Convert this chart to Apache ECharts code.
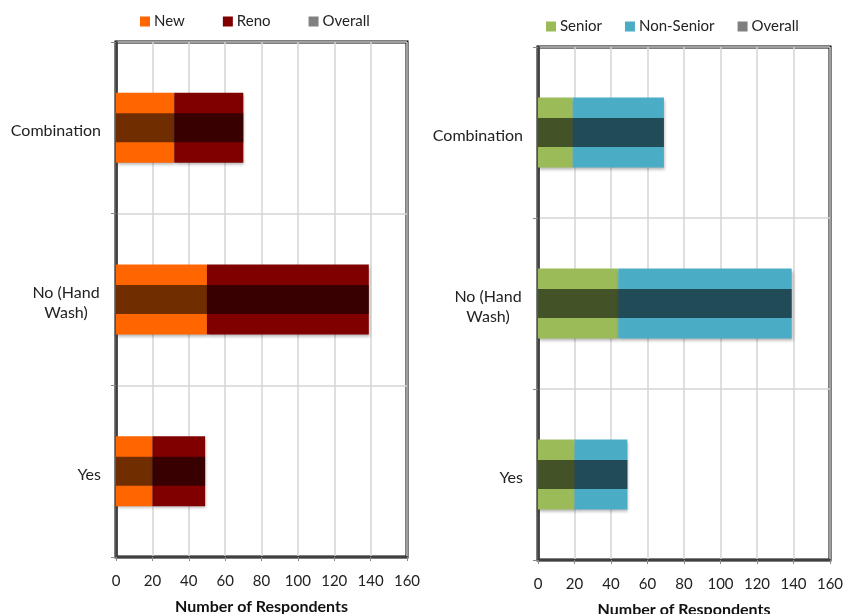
<!DOCTYPE html>
<html>
<head>
<meta charset="utf-8">
<script src="https://cdn.jsdelivr.net/npm/echarts@6/dist/echarts.min.js"></script>
<style>
  html, body { margin: 0; padding: 0; background: #fff; }
  #chart { width: 843px; height: 614px; }
</style>
</head>
<body>
<div id="chart"></div>
<script>
// categories, bottom to top
const categories = ['Yes', 'No (Hand\nWash)', 'Combination']
const xTicks = [0, 20, 40, 60, 80, 100, 120, 140, 160]

// left panel
const newValues = [20, 50, 32]
const renoValues = [29, 89, 38]
const overallLeft = [49, 139, 70]

// right panel
const seniorValues = [20, 44, 19]
const nonSeniorValues = [29, 95, 50]
const overallRight = [49, 139, 69]

const font = 'Lato, "Open Sans", sans-serif'
const overlay = 'rgba(0,0,0,0.56)'
const barShadow = { shadowBlur: 3, shadowColor: 'rgba(0,0,0,0.3)', shadowOffsetX: 1, shadowOffsetY: 2 }

const catLabel = {
	fontFamily: font,
	fontSize: 16,
	color: '#222',
	margin: 15,
	padding: [7, 0, 0, 0],
	formatter: function (v) {
		// two-line label is centred line by line
		if (v.indexOf('\n') < 0) return v
		return v.split('\n').map(s => '{c|' + s + '}').join('\n')
	},
	rich: { c: { width: 70, align: 'center', fontFamily: font, fontSize: 16, color: '#222', lineHeight: 20 } }
}

function xAxisFor(gridIndex) {
	return {
		type: 'value', gridIndex: gridIndex,
		min: xTicks[0], max: xTicks[xTicks.length - 1], interval: 20,
		name: 'Number of Respondents', nameLocation: 'middle', nameGap: 42,
		nameTextStyle: { fontFamily: font, fontSize: 16, fontWeight: 'bold', color: '#111' },
		axisLine: { show: true, lineStyle: { color: '#404040', width: 2 } },
		axisTick: { show: true, length: 4, lineStyle: { color: '#888' } },
		axisLabel: { fontFamily: font, fontSize: 15, color: '#222', margin: 17 },
		splitLine: { show: true, lineStyle: { color: '#d4d4d4', width: 1.5 } }
	}
}

function yAxesFor(gridIndex) {
	return [{
		type: 'category', gridIndex: gridIndex, data: categories,
		axisLine: { show: true, lineStyle: { color: '#404040', width: 2.5 } },
		axisTick: { show: true, length: 5, lineStyle: { color: '#888' } },
		axisLabel: catLabel,
		splitLine: { show: true, lineStyle: { color: '#d4d4d4', width: 1.5 } }
	}, {
		type: 'category', gridIndex: gridIndex, data: categories, show: false
	}]
}

function legendFor(names, colors, left, top, gap) {
	return {
		left: left, top: top, itemWidth: 10, itemHeight: 10, itemGap: gap, icon: 'rect',
		textStyle: { fontFamily: font, fontSize: 15, color: '#222', padding: [0, 0, 0, -1] },
		data: names.map((n, i) => ({ name: n, itemStyle: { color: colors[i] } }))
	}
}

const myChart = echarts.init(document.getElementById('chart'))
const option = {
	animation: false,
	backgroundColor: '#fff',
	grid: [
		{ left: 116, right: 436, top: 42, bottom: 57, outerBoundsMode: 'none', show: true, borderColor: '#000', borderWidth: 3 },
		{ left: 538, right: 13, top: 47, bottom: 54, outerBoundsMode: 'none', show: true, borderColor: '#000', borderWidth: 3 }
	],
	legend: [
		legendFor(['New', 'Reno', 'Overall'], ['#ff6600', '#800000', '#808080'], 135, 9, 38),
		legendFor(['Senior', 'Non-Senior', 'Overall'], ['#9bbb59', '#4bacc6', '#808080'], 541, 14, 23)
	],
	xAxis: [xAxisFor(0), xAxisFor(1)],
	yAxis: [].concat(yAxesFor(0), yAxesFor(1)),
	series: [
		{ name: 'New', type: 'bar', stack: 'l', xAxisIndex: 0, yAxisIndex: 0, barWidth: 70, data: newValues, itemStyle: Object.assign({ color: '#ff6600' }, barShadow) },
		{ name: 'Reno', type: 'bar', stack: 'l', xAxisIndex: 0, yAxisIndex: 0, barWidth: 70, data: renoValues, itemStyle: Object.assign({ color: '#800000' }, barShadow) },
		{ name: 'Overall', type: 'bar', xAxisIndex: 0, yAxisIndex: 1, barWidth: 29, data: overallLeft, itemStyle: { color: overlay } },
		{ name: 'Senior', type: 'bar', stack: 'r', xAxisIndex: 1, yAxisIndex: 2, barWidth: 70, data: seniorValues, itemStyle: Object.assign({ color: '#9bbb59' }, barShadow) },
		{ name: 'Non-Senior', type: 'bar', stack: 'r', xAxisIndex: 1, yAxisIndex: 2, barWidth: 70, data: nonSeniorValues, itemStyle: Object.assign({ color: '#4bacc6' }, barShadow) },
		{ name: 'Overall', type: 'bar', xAxisIndex: 1, yAxisIndex: 3, barWidth: 29, data: overallRight, itemStyle: { color: overlay } }
	]
}
myChart.setOption(option)
</script>
</body>
</html>
